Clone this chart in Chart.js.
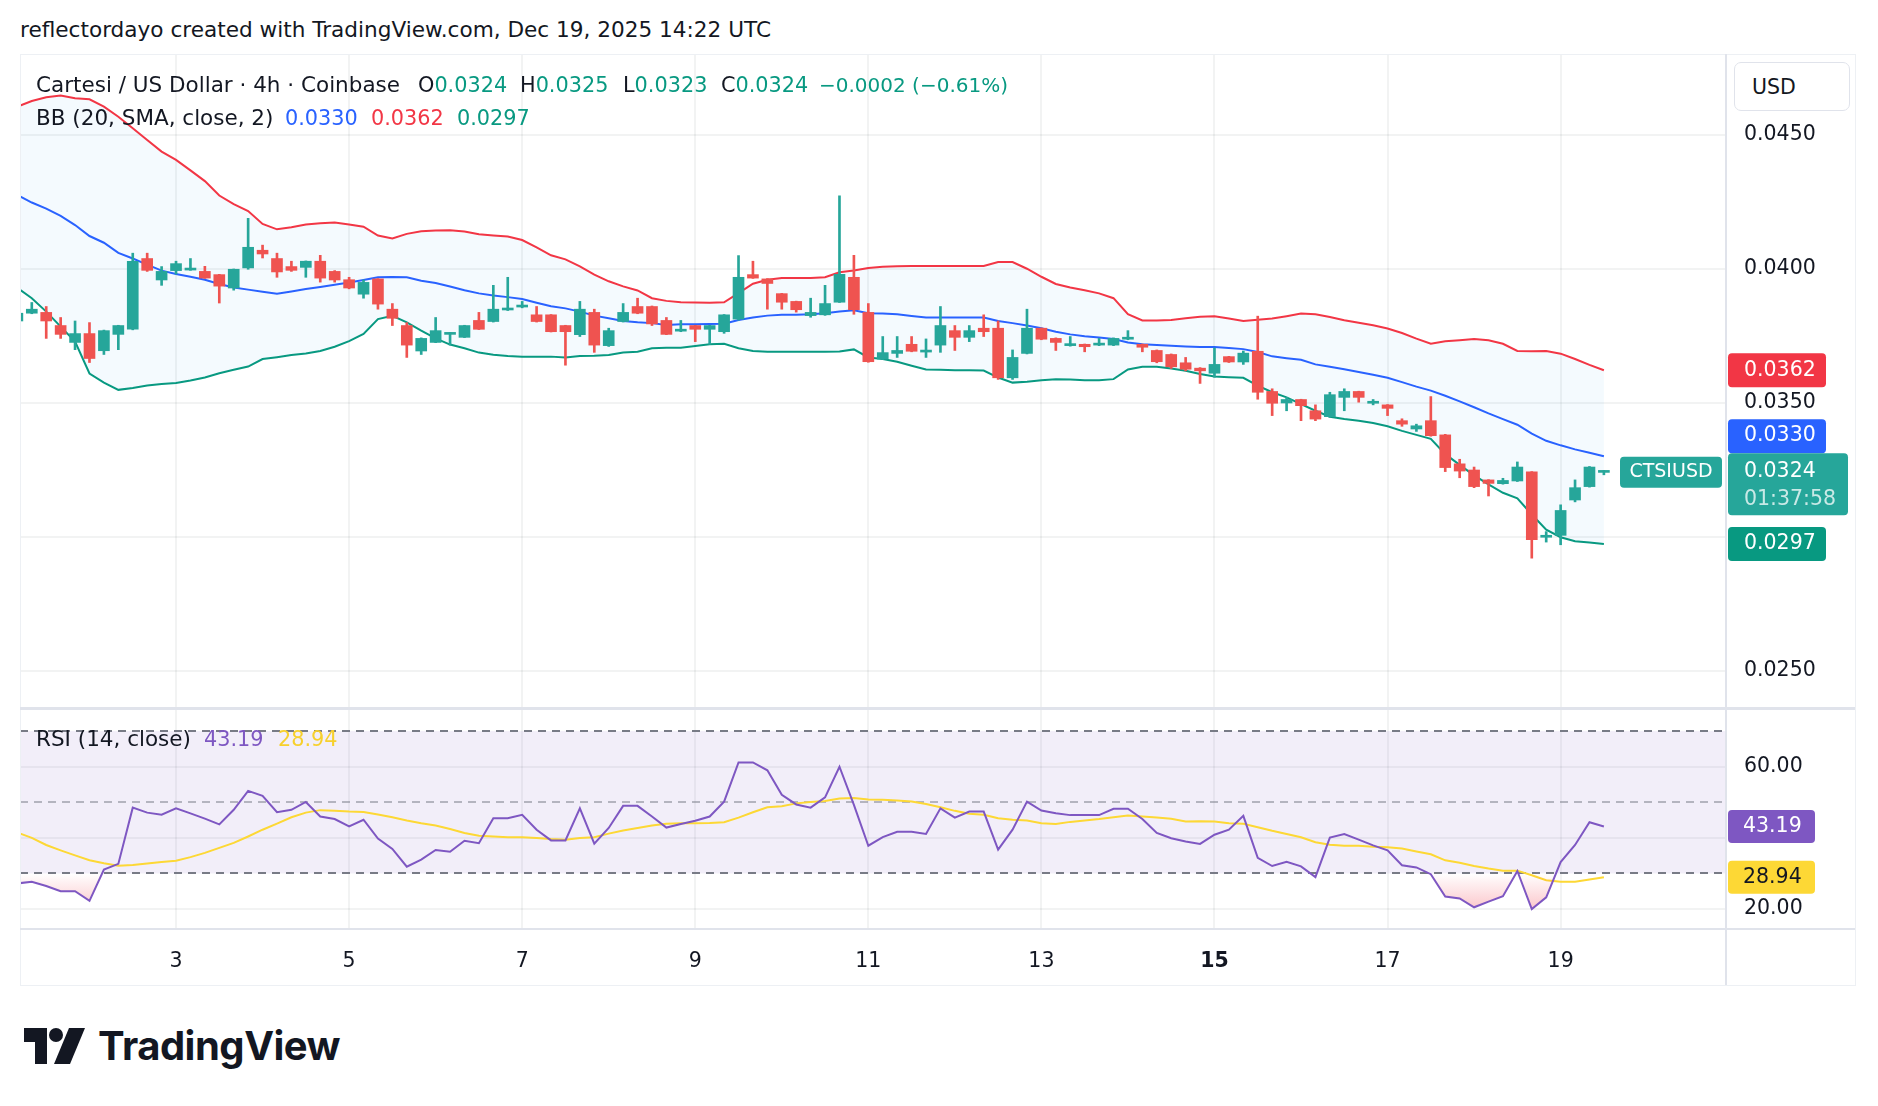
<!DOCTYPE html>
<html>
<head>
<meta charset="utf-8">
<title>CTSIUSD 4h</title>
<script src="https://cdn.jsdelivr.net/npm/chart.js@4.4.1/dist/chart.umd.min.js"></script>
<style>
  body { margin: 0; background: #fff; font-family: "DejaVu Sans", sans-serif; color: #131722; }
  #wrap { position: relative; width: 1878px; height: 1106px; overflow: hidden; }
  .t { position: absolute; white-space: nowrap; line-height: 1; transform: translateY(-50%); }
  .leg { font-size: 21.5px; }
  .val { font-size: 20.8px; }
  .up { color: #089981; }
  canvas { position: absolute; }
  .line { position: absolute; background: #e0e3eb; }
</style>
</head>
<body>
<div id="wrap">
  <div class="t" style="left:20px;top:30px;font-size:21.6px;">reflectordayo created with TradingView.com, Dec 19, 2025 14:22 UTC</div>

  <canvas id="price" width="1835" height="654" style="left:20px;top:54px;"></canvas>
  <canvas id="rsi" width="1835" height="277" style="left:20px;top:708px;"></canvas>

  <div class="line" style="left:20px;top:54px;width:1835px;height:1px;background:#edf0f4;"></div>
  <div class="line" style="left:20px;top:54px;width:1px;height:931px;background:#edf0f4;"></div>
  <div class="line" style="left:1855px;top:54px;width:1px;height:931px;background:#edf0f4;"></div>
  <div class="line" style="left:20px;top:985px;width:1836px;height:1px;background:#edf0f4;"></div>
  <div class="line" style="left:1725px;top:54px;width:2px;height:931px;"></div>
  <div class="line" style="left:20px;top:707px;width:1835px;height:3px;"></div>
  <div class="line" style="left:20px;top:928px;width:1835px;height:2px;"></div>

  <div class="t leg" style="left:36px;top:85px;">Cartesi / US Dollar · 4h · Coinbase</div>
  <div class="t val" style="left:418px;top:85px;">O<span class="up">0.0324</span></div>
  <div class="t val" style="left:520px;top:85px;">H<span class="up">0.0325</span></div>
  <div class="t val" style="left:623px;top:85px;">L<span class="up">0.0323</span></div>
  <div class="t val" style="left:721px;top:85px;">C<span class="up">0.0324</span></div>
  <div class="t up" style="left:819px;top:85px;font-size:20px;">−0.0002 (−0.61%)</div>

  <div class="t leg" style="left:36px;top:118px;">BB (20, SMA, close, 2)</div>
  <div class="t val" style="left:285px;top:118px;color:#2962ff;">0.0330</div>
  <div class="t val" style="left:371px;top:118px;color:#f23645;">0.0362</div>
  <div class="t val" style="left:457px;top:118px;color:#089981;">0.0297</div>

  <div class="t leg" style="left:36px;top:739px;">RSI (14, close)</div>
  <div class="t val" style="left:204px;top:739px;color:#7e57c2;">43.19</div>
  <div class="t val" style="left:278px;top:739px;color:#f7d02c;">28.94</div>

  <div style="position:absolute;left:1734px;top:62px;width:114px;height:47px;border:1px solid #e0e3eb;border-radius:7px;background:#fff;"></div>
  <div class="t" style="left:1752px;top:87px;font-size:20.5px;">USD</div>

  <svg style="position:absolute;left:24px;top:1028px;" width="62" height="36" viewBox="0 0 62 36">
    <path d="M0 0 H23 V36 H11 V14 H0 Z" fill="#131722"/>
    <circle cx="32" cy="7" r="7" fill="#131722"/>
    <path d="M45 0 H61 L46 36 H30 Z" fill="#131722"/>
  </svg>
  <div class="t" style="left:98px;top:1046px;font-family:Inter,sans-serif;font-weight:700;font-size:40px;letter-spacing:-0.5px;">TradingView</div>
</div>

<script>
// 4h candles, first bar Dec 1 04:00 UTC, last bar Dec 19 12:00 UTC
const firstBarDay = 1 + 4 / 24;
const barDays = 4 / 24;

const opens = [.03806,.03835,.03838,.03789,.03726,.03759,.03695,.03756,.03775,.04039,
  .03959,.03994,.03996,.03991,.03979,.03929,.04004,.04070,.04039,.04009,
  .04006,.04029,.03991,.03960,.03906,.03963,.03850,.03789,.03694,.03726,
  .03756,.03745,.03808,.03804,.03847,.03858,.03829,.03829,.03789,.03755,
  .03838,.03714,.03804,.03860,.03860,.03808,.03768,.03789,.03775,.03766,
  .03813,.03979,.03963,.03908,.03879,.03826,.03829,.03876,.03969,.03838,
  .03664,.03685,.03719,.03690,.03716,.03770,.03745,.03779,.03779,.03594,
  .03685,.03779,.03741,.03714,.03719,.03716,.03716,.03738,.03719,.03696,
  .03681,.03650,.03630,.03611,.03673,.03653,.03693,.03543,.03500,.03513,
  .03471,.03449,.03521,.03543,.03499,.03493,.03434,.03403,.03434,.03381,
  .03273,.03250,.03213,.03199,.03209,.03243,.02999,.03006,.03138,.03188,
  .03241];
const highs = [.03840,.03875,.03860,.03819,.03806,.03800,.03772,.03790,.04059,.04059,
  .04009,.04029,.04039,.04010,.03980,.04000,.04189,.04089,.04059,.04029,
  .04030,.04051,.03994,.03969,.03959,.03964,.03871,.03800,.03743,.03819,
  .03763,.03790,.03838,.03939,.03969,.03879,.03860,.03830,.03790,.03879,
  .03850,.03779,.03871,.03891,.03862,.03819,.03808,.03790,.03790,.03830,
  .04050,.04029,.03964,.03909,.03880,.03891,.03939,.04273,.04051,.03871,
  .03748,.03748,.03748,.03739,.03860,.03789,.03789,.03829,.03806,.03698,
  .03850,.03780,.03743,.03748,.03720,.03741,.03743,.03770,.03720,.03698,
  .03683,.03670,.03632,.03705,.03674,.03694,.03824,.03553,.03521,.03514,
  .03493,.03540,.03553,.03544,.03513,.03494,.03441,.03421,.03524,.03383,
  .03290,.03261,.03214,.03219,.03280,.03244,.03020,.03120,.03213,.03263,
  .03248];
const lows = [.03800,.03833,.03741,.03741,.03699,.03651,.03681,.03699,.03773,.03991,
  .03939,.03981,.03995,.03965,.03873,.03921,.03999,.04041,.03969,.03991,
  .03969,.03951,.03951,.03926,.03891,.03850,.03789,.03670,.03681,.03725,
  .03716,.03744,.03774,.03802,.03845,.03855,.03802,.03765,.03641,.03748,
  .03689,.03711,.03802,.03833,.03789,.03755,.03766,.03729,.03719,.03760,
  .03809,.03965,.03850,.03850,.03839,.03820,.03827,.03875,.03831,.03652,
  .03662,.03670,.03691,.03670,.03689,.03696,.03729,.03748,.03588,.03588,
  .03683,.03736,.03696,.03712,.03691,.03714,.03714,.03736,.03691,.03650,
  .03629,.03620,.03573,.03596,.03651,.03644,.03514,.03453,.03471,.03434,
  .03434,.03447,.03471,.03503,.03493,.03453,.03413,.03394,.03376,.03244,
  .03221,.03184,.03153,.03197,.03207,.02921,.02981,.02971,.03131,.03186,
  .03232];
const closes = [.03835,.03850,.03806,.03756,.03759,.03666,.03770,.03789,.04029,.03995,
  .03991,.04020,.04001,.03966,.03936,.03999,.04081,.04056,.03989,.03995,
  .04029,.03966,.03959,.03929,.03950,.03869,.03816,.03716,.03741,.03770,
  .03761,.03789,.03775,.03850,.03854,.03863,.03804,.03766,.03766,.03850,
  .03716,.03770,.03838,.03835,.03795,.03756,.03772,.03775,.03789,.03829,
  .03969,.03966,.03946,.03876,.03848,.03838,.03871,.03980,.03848,.03654,
  .03688,.03696,.03693,.03695,.03789,.03745,.03770,.03766,.03594,.03670,
  .03779,.03738,.03726,.03720,.03710,.03722,.03741,.03744,.03708,.03654,
  .03635,.03626,.03620,.03644,.03653,.03686,.03540,.03499,.03513,.03490,
  .03440,.03531,.03543,.03521,.03505,.03480,.03421,.03415,.03378,.03259,
  .03246,.03188,.03200,.03211,.03261,.02990,.03006,.03099,.03184,.03261,
  .03242];

// Bollinger Bands (20, SMA, close, 2)
const bbUpper = [.04606,.04627,.04641,.04647,.04637,.04633,.04606,.04568,.04525,.04481,
  .04438,.04407,.04368,.04328,.04274,.04242,.04216,.04168,.04148,.04156,
  .04166,.04171,.04173,.04166,.04158,.04125,.04114,.04131,.04141,.04144,
  .04145,.04140,.04130,.04125,.04121,.04108,.04081,.04051,.04036,.04010,
  .03979,.03954,.03935,.03920,.03891,.03881,.03876,.03875,.03874,.03876,
  .03910,.03945,.03960,.03966,.03966,.03966,.03969,.03988,.03994,.04004,
  .04008,.04010,.04011,.04011,.04011,.04011,.04011,.04011,.04026,.04026,
  .04001,.03971,.03944,.03931,.03921,.03909,.03891,.03831,.03808,.03808,
  .03810,.03816,.03822,.03824,.03815,.03806,.03811,.03815,.03824,.03834,
  .03831,.03821,.03809,.03799,.03790,.03778,.03761,.03740,.03721,.03730,
  .03734,.03739,.03734,.03721,.03694,.03693,.03694,.03684,.03664,.03642,
  .03622];
const bbBasis = [.04276,.04248,.04225,.04198,.04164,.04123,.04098,.04060,.04039,.04016,
  .03994,.03981,.03971,.03960,.03944,.03931,.03923,.03915,.03908,.03916,
  .03925,.03933,.03941,.03950,.03959,.03969,.03970,.03969,.03956,.03948,
  .03935,.03921,.03909,.03901,.03895,.03888,.03874,.03861,.03853,.03841,
  .03826,.03816,.03806,.03801,.03798,.03791,.03794,.03794,.03795,.03796,
  .03810,.03819,.03826,.03829,.03829,.03831,.03835,.03841,.03846,.03835,
  .03834,.03831,.03825,.03819,.03819,.03819,.03819,.03819,.03806,.03798,
  .03789,.03779,.03766,.03756,.03749,.03744,.03739,.03726,.03719,.03716,
  .03714,.03711,.03709,.03709,.03705,.03701,.03690,.03674,.03667,.03661,
  .03644,.03635,.03626,.03616,.03605,.03594,.03578,.03561,.03546,.03527,
  .03506,.03484,.03461,.03440,.03419,.03386,.03359,.03342,.03327,.03314,
  .03301];
const bbLower = [.03930,.03891,.03841,.03785,.03729,.03610,.03576,.03549,.03556,.03565,
  .03571,.03575,.03584,.03595,.03611,.03624,.03636,.03664,.03671,.03679,
  .03685,.03694,.03710,.03731,.03758,.03813,.03825,.03801,.03770,.03741,
  .03718,.03704,.03688,.03680,.03675,.03673,.03673,.03673,.03670,.03675,
  .03676,.03679,.03688,.03691,.03704,.03706,.03706,.03713,.03719,.03721,
  .03704,.03694,.03691,.03691,.03691,.03691,.03691,.03692,.03700,.03670,
  .03664,.03654,.03639,.03625,.03624,.03622,.03622,.03621,.03595,.03576,
  .03579,.03585,.03589,.03588,.03585,.03585,.03589,.03625,.03635,.03635,
  .03629,.03620,.03608,.03599,.03596,.03594,.03565,.03540,.03521,.03496,
  .03471,.03449,.03440,.03434,.03425,.03413,.03396,.03381,.03366,.03309,
  .03269,.03230,.03196,.03165,.03144,.03084,.03027,.02999,.02984,.02979,
  .02974];

// RSI (14, close) and its moving average
const rsiValues = [27.2,27.7,26.5,25.0,25.0,22.3,31.1,32.7,48.5,47.1,
  46.5,48.3,46.9,45.4,43.8,47.9,53.2,51.8,47.2,47.9,
  50.1,46.0,45.3,43.2,45.1,39.8,36.9,31.9,33.9,36.6,
  36.1,39.2,38.5,45.5,45.5,46.5,42.3,39.3,39.3,48.3,
  38.4,42.8,49.0,49.0,46.0,42.9,43.9,44.8,46.0,50.2,
  61.2,61.2,59.0,52.1,49.4,48.5,51.4,60.0,49.3,37.8,
  40.2,41.7,41.7,41.1,48.3,45.7,47.4,47.4,36.7,42.3,
  50.2,47.7,46.9,46.4,46.4,46.4,48.2,48.2,45.3,41.4,
  39.9,39.0,38.3,40.9,42.3,46.2,34.4,32.1,33.3,32.0,
  29.0,40.1,41.1,39.5,37.9,36.5,32.3,31.7,29.8,23.5,
  23.0,20.5,22.1,23.6,30.7,20.0,23.3,33.2,38.0,44.4,
  43.19];
const rsiMa = [41.5,40.0,38.0,36.5,35.1,33.7,32.9,32.2,32.4,32.8,
  33.2,33.6,34.6,35.8,37.2,38.6,40.4,42.3,44.0,45.8,
  47.1,47.8,47.6,47.4,47.3,46.6,45.8,44.9,44.1,43.5,
  42.5,41.4,40.6,40.4,40.2,40.2,40.0,39.7,39.5,40.0,
  40.2,41.2,42.1,42.8,43.5,44.0,44.1,44.1,44.2,44.4,
  45.7,47.2,48.6,48.9,49.7,50.1,50.4,51.1,51.2,50.8,
  50.7,50.5,50.2,49.5,48.6,47.6,46.8,46.5,45.5,45.1,
  44.9,44.1,43.9,44.5,44.9,45.3,45.8,46.3,46.0,45.7,
  45.4,44.6,44.7,44.6,44.1,44.0,43.0,42.0,41.1,40.2,
  38.8,38.1,37.8,37.8,37.5,37.4,37.0,36.2,35.4,33.7,
  33.0,32.1,31.4,30.8,30.8,29.5,28.1,27.7,27.7,28.3,
  28.94];
const rsiLevels = [70, 50, 30];

// axes
const dayTicks = [3, 5, 7, 9, 11, 13, 15, 17, 19];
const dayLabels = ["3", "5", "7", "9", "11", "13", "15", "17", "19"];
const priceTicks = [0.025, 0.030, 0.035, 0.040, 0.045];
const rsiTicks = [20, 40, 60];
const countdown = "01:37:58";
const symbol = "CTSIUSD";

const xMin = 1.197, xMax = 20.911;
const upColor = "#26a69a", downColor = "#ef5350";
const gridColor = "rgba(42,46,57,0.06)";
const txt = "#131722";
const FONT = '"DejaVu Sans", sans-serif';
const AXIS_PX = 20.5;

Chart.defaults.font.family = FONT;
Chart.defaults.color = txt;

const dayOf = i => firstBarDay + i * barDays;
const pts = arr => arr.map((v, i) => ({x: dayOf(i), y: v}));
const candleColors = closes.map((c, i) => c >= opens[i] ? upColor : downColor);
const last = arr => arr[arr.length - 1];

// axis labels that sit under a value tag are hidden, like on the source chart
const tagValues = [last(bbLower), last(bbUpper), last(closes)];
const priceLabel = v => tagValues.some(t => Math.abs(t - v) < 0.0006) ? "" : v.toFixed(4);

function fixWidth(w) {
  return s => { s.width = w; s.paddingTop = 0; s.paddingBottom = 0; };
}
function fixHeight(h) {
  return s => { s.height = h; s.paddingLeft = 0; s.paddingRight = 0; };
}

function tag(ctx, x, y, w, h, bg) {
  ctx.fillStyle = bg;
  ctx.beginPath();
  ctx.roundRect(x, y, w, h, 4);
  ctx.fill();
}

const priceTags = {
  id: "priceTags",
  afterDraw(chart) {
    const {ctx, chartArea, scales: {y}} = chart;
    const x0 = chartArea.right + 2;
    ctx.save();
    ctx.font = AXIS_PX + "px " + FONT;
    ctx.textBaseline = "middle";

    const yc = y.getPixelForValue(last(closes));
    const curTop = yc - 19;

    // lower band
    const yl = y.getPixelForValue(last(bbLower));
    tag(ctx, x0, yl - 17, 98, 34, "#089981");
    ctx.fillStyle = "#fff";
    ctx.fillText(last(bbLower).toFixed(4), x0 + 16, yl);

    // upper band
    const yu = y.getPixelForValue(last(bbUpper));
    tag(ctx, x0, yu - 17, 98, 34, "#f23645");
    ctx.fillStyle = "#fff";
    ctx.fillText(last(bbUpper).toFixed(4), x0 + 16, yu);

    // basis, pushed up if it overlaps the last price tag
    let yb = y.getPixelForValue(last(bbBasis));
    if (yb + 17 > curTop) yb = curTop - 17;
    tag(ctx, x0, yb - 17, 98, 34, "#2962ff");
    ctx.fillStyle = "#fff";
    ctx.fillText(last(bbBasis).toFixed(4), x0 + 16, yb);

    // last price + countdown
    tag(ctx, x0, curTop, 120, 62, upColor);
    ctx.fillStyle = "#fff";
    ctx.fillText(last(closes).toFixed(4), x0 + 16, yc);
    ctx.fillStyle = "rgba(255,255,255,0.75)";
    ctx.fillText(countdown, x0 + 16, yc + 28);

    // symbol tag left of the axis
    ctx.font = "19px " + FONT;
    tag(ctx, chartArea.right - 106, yc - 15.5, 102, 31, upColor);
    ctx.fillStyle = "#fff";
    ctx.textAlign = "center";
    ctx.fillText(symbol, chartArea.right - 55, yc);
    ctx.restore();
  }
};

const rsiBands = {
  id: "rsiBands",
  beforeDatasetsDraw(chart) {
    const {ctx, chartArea: a, scales: {y}} = chart;
    const yTop = y.getPixelForValue(rsiLevels[0]);
    const yBot = y.getPixelForValue(rsiLevels[2]);
    ctx.save();
    ctx.fillStyle = "rgba(126,87,194,0.1)";
    ctx.fillRect(a.left, yTop, a.right - a.left, yBot - yTop);
    ctx.lineWidth = 2;
    ctx.setLineDash([8, 6]);
    rsiLevels.forEach((lv, k) => {
      const yy = Math.round(y.getPixelForValue(lv));
      ctx.strokeStyle = k === 1 ? "rgba(120,123,134,0.5)" : "#787b86";
      ctx.beginPath();
      ctx.moveTo(a.left, yy);
      ctx.lineTo(a.right, yy);
      ctx.stroke();
    });
    ctx.restore();
  },
  afterDraw(chart) {
    const {ctx, chartArea, scales: {y}} = chart;
    const x0 = chartArea.right + 2;
    ctx.save();
    ctx.font = AXIS_PX + "px " + FONT;
    ctx.textBaseline = "middle";
    const ym = y.getPixelForValue(last(rsiMa));
    tag(ctx, x0, ym - 16.5, 87, 33, "#fdd835");
    ctx.fillStyle = txt;
    ctx.fillText(last(rsiMa).toFixed(2), x0 + 15, ym);
    const yr = y.getPixelForValue(last(rsiValues));
    tag(ctx, x0, yr - 16.5, 87, 33, "#7e57c2");
    ctx.fillStyle = "#fff";
    ctx.fillText(last(rsiValues).toFixed(2), x0 + 15, yr);
    ctx.restore();
  }
};

const xGridScale = {
  type: "linear",
  min: xMin,
  max: xMax,
  offset: false,
  afterBuildTicks: s => { s.ticks = dayTicks.map(v => ({value: v})); },
  grid: {color: gridColor, lineWidth: 2, drawTicks: false, offset: false},
  border: {display: false}
};

new Chart(document.getElementById("price"), {
  type: "bar",
  data: {
    datasets: [
      {
        label: "body",
        data: opens.map((o, i) => ({x: dayOf(i), y: [o, closes[i]]})),
        backgroundColor: candleColors,
        borderWidth: 0,
        barThickness: 11,
        minBarLength: 2,
        grouped: false
      },
      {
        label: "wick",
        data: lows.map((l, i) => ({x: dayOf(i), y: [l, highs[i]]})),
        backgroundColor: candleColors,
        borderWidth: 0,
        barThickness: 2,
        grouped: false
      },
      {
        type: "line", label: "upper", data: pts(bbUpper),
        borderColor: "#f23645", borderWidth: 2, pointRadius: 0, fill: false
      },
      {
        type: "line", label: "basis", data: pts(bbBasis),
        borderColor: "#2962ff", borderWidth: 2, pointRadius: 0, fill: false
      },
      {
        type: "line", label: "lower", data: pts(bbLower),
        borderColor: "#089981", borderWidth: 2, pointRadius: 0,
        fill: 2, backgroundColor: "rgba(33,150,243,0.05)"
      }
    ]
  },
  options: {
    responsive: false,
    devicePixelRatio: 1,
    animation: false,
    layout: {padding: 0},
    plugins: {legend: {display: false}, tooltip: {enabled: false}},
    scales: {
      x: Object.assign({}, xGridScale, {
        ticks: {display: false},
        afterFit: fixHeight(0)
      }),
      y: {
        position: "right",
        min: 0.023619,
        max: 0.048022,
        afterBuildTicks: s => { s.ticks = priceTicks.map(v => ({value: v})); },
        ticks: {callback: priceLabel, color: txt, font: {size: AXIS_PX}, padding: 18},
        grid: {color: gridColor, lineWidth: 2, drawTicks: false},
        border: {display: false},
        afterFit: fixWidth(129)
      }
    }
  },
  plugins: [priceTags]
});

new Chart(document.getElementById("rsi"), {
  type: "line",
  data: {
    datasets: [
      {
        label: "RSI",
        data: pts(rsiValues),
        borderColor: "#7e57c2",
        borderWidth: 2,
        pointRadius: 0,
        fill: {target: {value: 30}, above: "rgba(0,0,0,0)"},
        backgroundColor: ctx => {
          const {chart} = ctx;
          if (!chart.chartArea) return "rgba(0,0,0,0)";
          const y = chart.scales.y;
          const g = chart.ctx.createLinearGradient(0, y.getPixelForValue(30), 0, y.getPixelForValue(20));
          g.addColorStop(0, "rgba(242,54,69,0)");
          g.addColorStop(1, "rgba(242,54,69,0.28)");
          return g;
        }
      },
      {
        label: "RSI MA",
        data: pts(rsiMa),
        borderColor: "#fdd835",
        borderWidth: 2,
        pointRadius: 0,
        fill: false
      }
    ]
  },
  options: {
    responsive: false,
    devicePixelRatio: 1,
    animation: false,
    layout: {padding: 0},
    plugins: {legend: {display: false}, tooltip: {enabled: false}},
    scales: {
      x: Object.assign({}, xGridScale, {
        position: "bottom",
        ticks: {
          callback: v => dayLabels[dayTicks.indexOf(v)],
          color: txt,
          padding: 20,
          maxRotation: 0,
          font: c => ({size: AXIS_PX, weight: c.tick && c.tick.value === 15 ? "bold" : "normal"})
        },
        afterFit: fixHeight(56)
      }),
      y: {
        position: "right",
        min: 14.4,
        max: 76.5,
        afterBuildTicks: s => { s.ticks = rsiTicks.map(v => ({value: v})); },
        ticks: {callback: v => v.toFixed(2), color: txt, font: {size: AXIS_PX}, padding: 18},
        grid: {color: gridColor, lineWidth: 2, drawTicks: false},
        border: {display: false},
        afterFit: fixWidth(129)
      }
    }
  },
  plugins: [rsiBands]
});
</script>
</body>
</html>
